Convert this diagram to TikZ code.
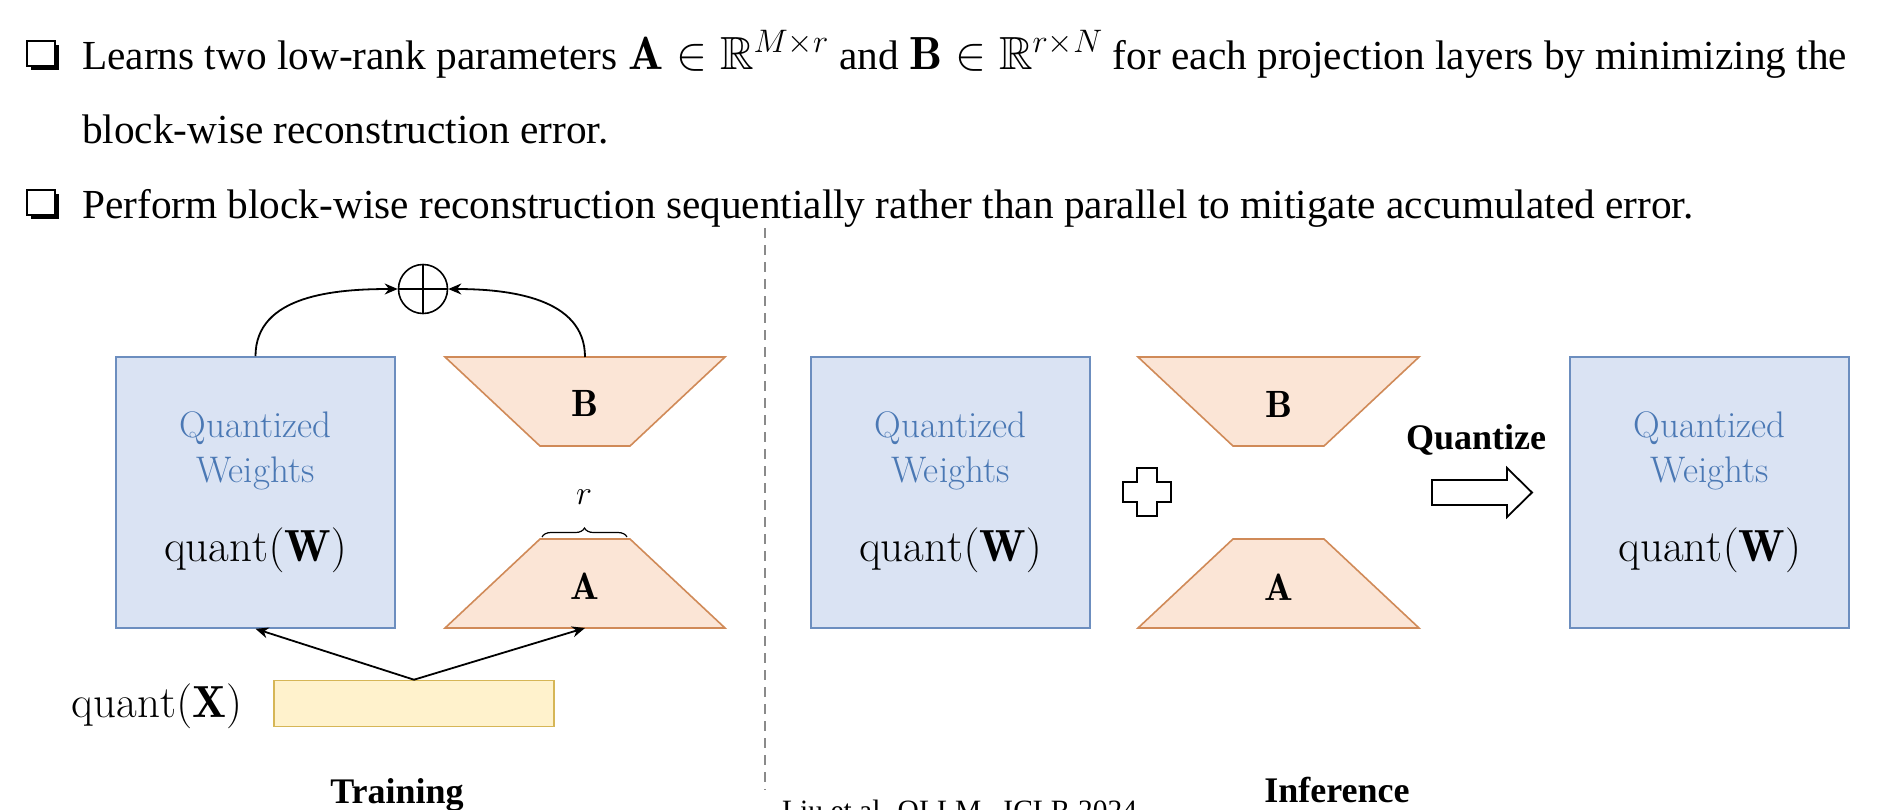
\documentclass[tikz,border=0pt]{standalone}
\usepackage{fix-cm}
\usepackage{fontspec}
\usepackage{amsmath,amssymb}
\usetikzlibrary{arrows.meta,decorations.pathreplacing,calc}
\newfontfamily\tnr{Liberation Serif}
\newcommand{\bigmath}[1]{{\fontsize{46.5}{50}\selectfont$#1$}}
\definecolor{wfill}{HTML}{DAE3F3}
\definecolor{wborder}{HTML}{6C8EBF}
\definecolor{wtext}{HTML}{4A78B4}
\definecolor{tfill}{HTML}{FBE5D6}
\definecolor{tborder}{HTML}{D08A58}
\definecolor{xfill}{HTML}{FFF2CC}
\definecolor{xborder}{HTML}{D6B656}
\definecolor{dashgray}{HTML}{8A8A8A}
\tikzset{
  wbox/.style={draw=wborder, fill=wfill, line width=1.6pt, minimum width=279pt, minimum height=271pt, inner sep=0pt},
  wtxt/.style={text=wtext, inner sep=0pt, anchor=base, font=\fontsize{37}{44}\selectfont},
  qtxt/.style={inner sep=0pt, anchor=base, font=\fontsize{45}{54}\selectfont},
  trap/.style={draw=tborder, fill=tfill, line width=1.6pt},
  tlab/.style={inner sep=0pt, font=\fontsize{38}{45}\selectfont},
  xbox/.style={draw=xborder, fill=xfill, line width=1.6pt, minimum width=280pt, minimum height=46pt, inner sep=0pt},
  conn/.style={line width=1.8pt, -{Stealth[length=13pt,width=11pt]}},
  bullettxt/.style={inner sep=0pt, anchor=base west, font=\tnr\fontsize{41.3}{50}\selectfont},
  caption/.style={inner sep=0pt, anchor=base, font=\tnr\bfseries\fontsize{36}{43}\selectfont},
  hollow/.style={draw=black, fill=white, line width=1.8pt, line join=miter},
}
\begin{document}
\begin{tikzpicture}[x=1pt,y=1pt]
\useasboundingbox[fill=white] (0,0) rectangle (1902,-809);

% bullets
\fill (31,-45) rectangle (59,-70);
\draw[fill=white,line width=2pt] (27,-41) rectangle (55,-66);
\fill (31,-194) rectangle (59,-219);
\draw[fill=white,line width=2pt] (27,-190) rectangle (55,-215);

\node[bullettxt] (l1) at (82,-69) {Learns two low-rank parameters \bigmath{\mathbf{A}\in\mathbb{R}^{M\times r}} and \bigmath{\mathbf{B}\in\mathbb{R}^{r\times N}} for each projection layers by minimizing the};
\node[bullettxt] (l2) at (82,-143) {block-wise reconstruction error.};
\node[bullettxt] (l3) at (82,-218) {Perform block-wise reconstruction sequentially rather than parallel to mitigate accumulated error.};

% divider
\coordinate (dtop) at (765,-228);
\coordinate (dbot) at (765,-790);
\draw[dashgray, line width=1.4pt, dash pattern=on 10pt off 7pt] (dtop) -- (dbot);

% ---------- Training ----------
\node[wbox] (w1) at (255.5,-492.5) {};
\node[wtxt] (w1a) at (255.5,-437) {Quantized};
\node[wtxt] (w1b) at (255.5,-482) {Weights};
\node[qtxt] (w1c) at (255.5,-561) {$\mathrm{quant}(\mathbf{W})$};

\draw[trap] (445,-357) -- (725,-357) -- (630,-446) -- (540,-446) -- cycle;
\coordinate (Btop) at (585,-357);
\node[tlab] (Blab) at (585,-403) {$\mathbf{B}$};

\draw[trap] (540,-539) -- (630,-539) -- (725,-628) -- (445,-628) -- cycle;
\coordinate (Abot) at (585,-628);
\node[tlab] (Alab) at (585,-586) {$\mathbf{A}$};

\draw[decorate, decoration={brace, amplitude=9pt}, line width=1.2pt] (542,-537) -- (627,-537);
\node[inner sep=0pt, font=\fontsize{34}{40}\selectfont] (rlab) at (584,-497) {$r$};

\node[draw, circle, line width=1.6pt, minimum size=49pt, inner sep=0pt] (op) at (423,-289) {};
\draw[line width=1.6pt] (op.north) -- (op.south);
\draw[line width=1.6pt] (op.west) -- (op.east);

\draw[conn] (w1.north) to[out=90,in=180] (op.west);
\draw[conn] (Btop) to[out=90,in=0] (op.east);

\node[xbox] (qx) at (414,-703.5) {};
\node[qtxt] (qxl) at (157,-717) {$\mathrm{quant}(\mathbf{X})$};
\draw[conn] (qx.north) -- (w1.south);
\draw[conn] (qx.north) -- (Abot);

\node[caption] (train) at (397,-803) {Training};

% ---------- Inference ----------
\node[wbox] (w2) at (950.5,-492.5) {};
\node[wtxt] (w2a) at (950.5,-437) {Quantized};
\node[wtxt] (w2b) at (950.5,-482) {Weights};
\node[qtxt] (w2c) at (950.5,-561) {$\mathrm{quant}(\mathbf{W})$};

\draw[trap] (1138,-357) -- (1419,-357) -- (1324,-446) -- (1233,-446) -- cycle;
\node[tlab] (B2lab) at (1279,-404) {$\mathbf{B}$};
\draw[trap] (1233,-539) -- (1324,-539) -- (1419,-628) -- (1138,-628) -- cycle;
\node[tlab] (A2lab) at (1279,-587) {$\mathbf{A}$};

% hollow plus
\draw[hollow] (1137,-468) -- (1157,-468) -- (1157,-482) -- (1171,-482) -- (1171,-502) -- (1157,-502) -- (1157,-516) -- (1137,-516) -- (1137,-502) -- (1123,-502) -- (1123,-482) -- (1137,-482) -- cycle;

\node[caption] (qz) at (1476,-449) {Quantize};
% hollow arrow
\draw[hollow] (1432,-480) -- (1507,-480) -- (1507,-468) -- (1532,-492.5) -- (1507,-517) -- (1507,-505) -- (1432,-505) -- cycle;

\node[wbox] (w3) at (1709.75,-492.5) {};
\node[wtxt] (w3a) at (1709.75,-437) {Quantized};
\node[wtxt] (w3b) at (1709.75,-482) {Weights};
\node[qtxt] (w3c) at (1709.75,-561) {$\mathrm{quant}(\mathbf{W})$};

\node[caption] (inf) at (1337,-802) {Inference};

\node[inner sep=0pt, anchor=base west, font=\tnr\fontsize{29.5}{35}\selectfont] (foot) at (782,-820) {Liu et al. QLLM , ICLR 2024};
\end{tikzpicture}
\end{document}
